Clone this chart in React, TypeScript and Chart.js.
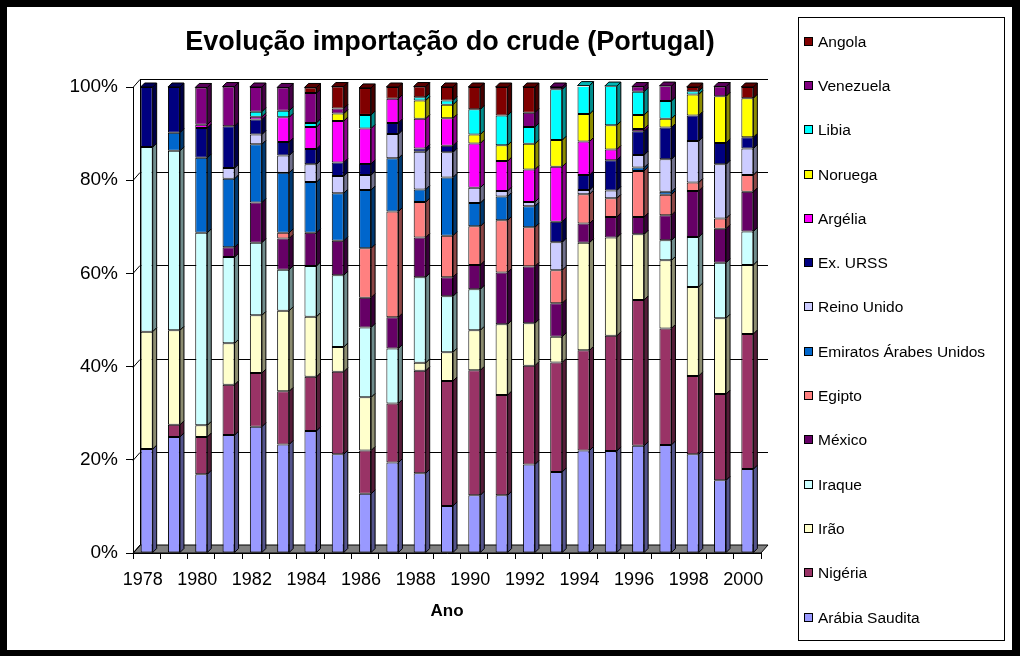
import React, { useEffect, useRef } from "react";
import { Chart, registerables } from "chart.js";

Chart.register(...registerables);

const YEARS = ["1978","1979","1980","1981","1982","1983","1984","1985","1986","1987","1988","1989","1990","1991","1992","1993","1994","1995","1996","1997","1998","1999","2000"];

const ARABIA_SAUDITA = [22.3, 24.9, 16.9, 25.3, 27.1, 23.3, 26.2, 21.2, 12.7, 19.4, 17.1, 10.1, 12.4, 12.4, 19.0, 17.4, 22.0, 21.9, 23.0, 23.2, 21.2, 15.6, 18.0];
const NIGERIA = [0, 2.6, 8.0, 10.8, 11.5, 11.4, 11.6, 17.7, 9.3, 12.7, 22.0, 26.8, 26.8, 21.5, 21.2, 23.5, 21.5, 24.7, 31.3, 25.0, 16.8, 18.5, 29.0];
const IRAO = [25.2, 20.3, 2.5, 8.9, 12.4, 17.3, 12.9, 5.3, 11.4, 0, 1.7, 6.2, 8.6, 15.2, 9.1, 5.5, 23.1, 21.1, 14.1, 14.6, 19.1, 16.3, 14.8];
const IRAQUE = [39.6, 38.5, 41.3, 18.5, 15.6, 8.8, 10.9, 15.4, 15.0, 11.8, 18.4, 12.0, 8.8, 0, 0, 0, 0, 0, 0, 4.3, 10.7, 11.9, 7.2];
const MEXICO = [0, 0, 0, 2.1, 8.6, 6.7, 7.1, 7.4, 6.4, 6.7, 8.5, 4.1, 5.2, 11.1, 12.2, 7.2, 4.1, 4.4, 3.7, 5.4, 9.9, 7.3, 8.5];
const EGIPTO = [0, 0, 0, 0, 0, 1.2, 0, 0, 10.6, 22.7, 7.6, 8.9, 8.3, 11.2, 8.4, 7.1, 6.3, 4.0, 9.9, 4.4, 1.8, 2.2, 3.6];
const EMIRATOS = [0, 3.9, 16.1, 14.7, 12.5, 12.9, 10.9, 10.2, 12.5, 11.4, 2.7, 12.5, 5.0, 5.1, 4.5, 0, 0, 0, 0.7, 0.6, 0, 0, 0];
const REINO_UNIDO = [0, 0, 0, 2.3, 2.1, 3.7, 3.8, 3.7, 3.2, 5.2, 8.1, 5.4, 3.3, 1.2, 0.9, 6.0, 0.9, 1.7, 2.7, 7.0, 8.9, 11.6, 5.7];
const EX_URSS = [12.9, 9.8, 6.4, 9.0, 3.2, 2.9, 3.3, 2.9, 2.4, 2.4, 0.7, 1.4, 0, 0, 0, 4.4, 3.2, 6.5, 5.1, 6.8, 5.5, 4.6, 2.4];
const ARGELIA = [0, 0, 0.7, 0, 0.6, 5.3, 4.7, 8.9, 7.6, 5.2, 6.4, 5.9, 9.5, 6.4, 7.0, 11.8, 7.2, 2.3, 0.5, 0, 0, 0, 0];
const NORUEGA = [0, 0, 0, 0, 0, 0, 0, 1.6, 0, 0, 3.9, 2.9, 1.9, 3.4, 5.5, 5.7, 5.9, 5.2, 3.0, 1.9, 4.5, 10.0, 8.4];
const LIBIA = [0, 0, 0, 0, 1.1, 1.4, 0.9, 0, 2.9, 0, 0.7, 0.9, 5.4, 6.4, 3.6, 10.9, 6.1, 8.4, 5.0, 3.8, 0.7, 0, 0];
const VENEZUELA = [0, 0, 8.0, 8.5, 5.3, 5.0, 6.4, 1.1, 0, 0, 0, 0, 0, 0, 3.1, 0.5, 0, 0, 1.1, 3.2, 0, 2.1, 0];
const ANGOLA = [0, 0, 0, 0, 0, 0, 1.2, 4.7, 5.8, 2.5, 2.3, 2.9, 4.8, 6.1, 5.5, 0, 0, 0, 0, 0, 0.9, 0, 2.4];

const SERIES_NAMES = ["Arábia Saudita","Nigéria","Irão","Iraque","México","Egipto","Emiratos Árabes Unidos","Reino Unido","Ex. URSS","Argélia","Noruega","Libia","Venezuela","Angola"];
const SERIES_VALUES = [ARABIA_SAUDITA, NIGERIA, IRAO, IRAQUE, MEXICO, EGIPTO, EMIRATOS, REINO_UNIDO, EX_URSS, ARGELIA, NORUEGA, LIBIA, VENEZUELA, ANGOLA];
const SERIES_COLORS = ["#9999FF","#993366","#FFFFCC","#CCFFFF","#660066","#FF8080","#0066CC","#CCCCFF","#000080","#FF00FF","#FFFF00","#00FFFF","#800080","#800000"];

const Y_TICKS = [0, 20, 40, 60, 80, 100];
const TITLE = "Evolução importação do crude (Portugal)";
const X_TITLE = "Ano";

const FONT = "'Liberation Sans', Arial, sans-serif";

function shade(hex: string, f: number): string {
  const n = parseInt(hex.slice(1), 16);
  const r = Math.round(((n >> 16) & 255) * f);
  const g = Math.round(((n >> 8) & 255) * f);
  const b = Math.round((n & 255) * f);
  return `rgb(${r},${g},${b})`;
}

const WALL_DX = 7;
const WALL_DY = 8;
const BAR_DX = 4;
const BAR_DY = 4;

const excel3d = {
  id: "excel3d",
  beforeDraw(chart: any) {
    const ctx = chart.ctx;
    ctx.save();
    ctx.fillStyle = "#000";
    ctx.fillRect(0, 0, chart.width, chart.height);
    ctx.fillStyle = "#fff";
    ctx.fillRect(7, 7, 1005, 643);
    ctx.restore();
  },
  beforeDatasetsDraw(chart: any) {
    const ctx = chart.ctx;
    const { left: L, right: R, bottom: B } = chart.chartArea;
    const ys = chart.scales.y;
    ctx.save();
    ctx.lineWidth = 1;
    ctx.strokeStyle = "#000";
    // floor
    ctx.fillStyle = "#808080";
    ctx.beginPath();
    ctx.moveTo(L, B);
    ctx.lineTo(L + WALL_DX, B - WALL_DY);
    ctx.lineTo(R + WALL_DX, B - WALL_DY);
    ctx.lineTo(R, B);
    ctx.closePath();
    ctx.fill();
    ctx.stroke();
    // left wall edge
    const topY = ys.getPixelForValue(100);
    ctx.beginPath();
    ctx.moveTo(Math.round(L + WALL_DX) + 0.5, topY - WALL_DY);
    ctx.lineTo(Math.round(L + WALL_DX) + 0.5, B - WALL_DY);
    ctx.stroke();
    // gridlines on back wall
    Y_TICKS.forEach((v) => {
      const y = Math.round(ys.getPixelForValue(v)) + 0.5;
      ctx.beginPath();
      ctx.moveTo(L, y);
      ctx.lineTo(L + WALL_DX, y - WALL_DY);
      if (v !== 0) ctx.lineTo(R + WALL_DX, y - WALL_DY);
      ctx.stroke();
    });
    ctx.restore();
  },
  afterDatasetsDraw(chart: any) {
    const ctx = chart.ctx;
    ctx.save();
    ctx.lineWidth = 1;
    ctx.strokeStyle = "#000";
    const n = chart.data.labels.length;
    const topIdx: number[] = new Array(n).fill(-1);
    chart.data.datasets.forEach((ds: any, di: number) => {
      const meta = chart.getDatasetMeta(di);
      meta.data.forEach((el: any, i: number) => {
        const top = Math.min(el.y, el.base);
        const bot = Math.max(el.y, el.base);
        if (bot - top < 0.5) return;
        topIdx[i] = di;
        const right = el.x + el.width / 2;
        ctx.fillStyle = shade(SERIES_COLORS[di], 0.55);
        ctx.beginPath();
        ctx.moveTo(right, top);
        ctx.lineTo(right + BAR_DX, top - BAR_DY);
        ctx.lineTo(right + BAR_DX, bot - BAR_DY);
        ctx.lineTo(right, bot);
        ctx.closePath();
        ctx.fill();
        ctx.stroke();
      });
    });
    for (let i = 0; i < n; i++) {
      const di = topIdx[i];
      if (di < 0) continue;
      const el = chart.getDatasetMeta(di).data[i];
      const top = Math.min(el.y, el.base);
      const left = el.x - el.width / 2;
      const right = el.x + el.width / 2;
      ctx.fillStyle = shade(SERIES_COLORS[di], 0.7);
      ctx.beginPath();
      ctx.moveTo(left, top);
      ctx.lineTo(left + BAR_DX, top - BAR_DY);
      ctx.lineTo(right + BAR_DX, top - BAR_DY);
      ctx.lineTo(right, top);
      ctx.closePath();
      ctx.fill();
      ctx.stroke();
    }
    ctx.restore();
  },
  afterDraw(chart: any) {
    const ctx = chart.ctx;
    ctx.save();
    // title
    ctx.fillStyle = "#000";
    ctx.font = `bold 27px ${FONT}`;
    ctx.textAlign = "center";
    ctx.textBaseline = "middle";
    ctx.fillText(TITLE, 450, 43);
    // legend
    ctx.lineWidth = 1;
    ctx.strokeStyle = "#000";
    ctx.fillStyle = "#fff";
    ctx.fillRect(798.5, 17.5, 206, 623);
    ctx.strokeRect(798.5, 17.5, 206, 623);
    ctx.font = `15.5px ${FONT}`;
    ctx.textAlign = "left";
    const ds = chart.data.datasets;
    for (let k = 0; k < ds.length; k++) {
      const di = ds.length - 1 - k;
      const cy = Math.round(41.7 + k * 44.3);
      ctx.fillStyle = SERIES_COLORS[di];
      ctx.fillRect(804.5, cy - 4.5, 8, 8);
      ctx.strokeRect(804.5, cy - 4.5, 8, 8);
      ctx.fillStyle = "#000";
      ctx.fillText(ds[di].label, 818, cy + 1);
    }
    ctx.restore();
  },
};

export default function App() {
  const ref = useRef<HTMLCanvasElement | null>(null);
  useEffect(() => {
    document.body.style.margin = "0";
    if (!ref.current) return;
    const chart = new Chart(ref.current, {
      type: "bar",
      data: {
        labels: YEARS,
        datasets: SERIES_NAMES.map((name, i) => ({
          label: name,
          data: SERIES_VALUES[i],
          backgroundColor: SERIES_COLORS[i],
          borderColor: "#000",
          borderWidth: 1,
          borderSkipped: false,
          barPercentage: 0.44,
          categoryPercentage: 1.0,
        })),
      },
      options: {
        responsive: false,
        animation: false,
        devicePixelRatio: 1,
        layout: { padding: { top: 87, right: 259, bottom: 0, left: 0 } },
        plugins: {
          legend: { display: false },
          title: { display: false },
          tooltip: { enabled: false },
        },
        scales: {
          x: {
            stacked: true,
            grid: { display: true, drawOnChartArea: false, drawTicks: true, tickLength: 6, color: "#000", offset: true },
            border: { display: true, color: "#000" },
            ticks: {
              autoSkip: false,
              maxRotation: 0,
              minRotation: 0,
              color: "#000",
              font: { family: FONT, size: 18 },
              padding: 10,
              labelOffset: -4,
              callback: (_v: any, idx: number) => (idx % 2 === 0 ? YEARS[idx] : ""),
            },
            title: {
              display: true,
              text: X_TITLE,
              color: "#000",
              font: { family: FONT, size: 17, weight: "bold" },
              padding: { top: 0, bottom: 34 },
            },
            afterFit: (s: any) => { s.height = 103; },
          },
          y: {
            stacked: true,
            min: 0,
            max: 100,
            grid: { display: true, drawOnChartArea: false, drawTicks: true, tickLength: 7, color: "#000" },
            border: { display: true, color: "#000" },
            ticks: {
              stepSize: 20,
              color: "#000",
              padding: 8,
              font: { family: FONT, size: 19 },
              callback: (v: any) => `${v}%`,
            },
            afterFit: (s: any) => { s.width = 133; },
          },
        },
      },
      plugins: [excel3d],
    });
    return () => chart.destroy();
  }, []);
  return <canvas ref={ref} width={1020} height={656} style={{ display: "block" }} />;
}
